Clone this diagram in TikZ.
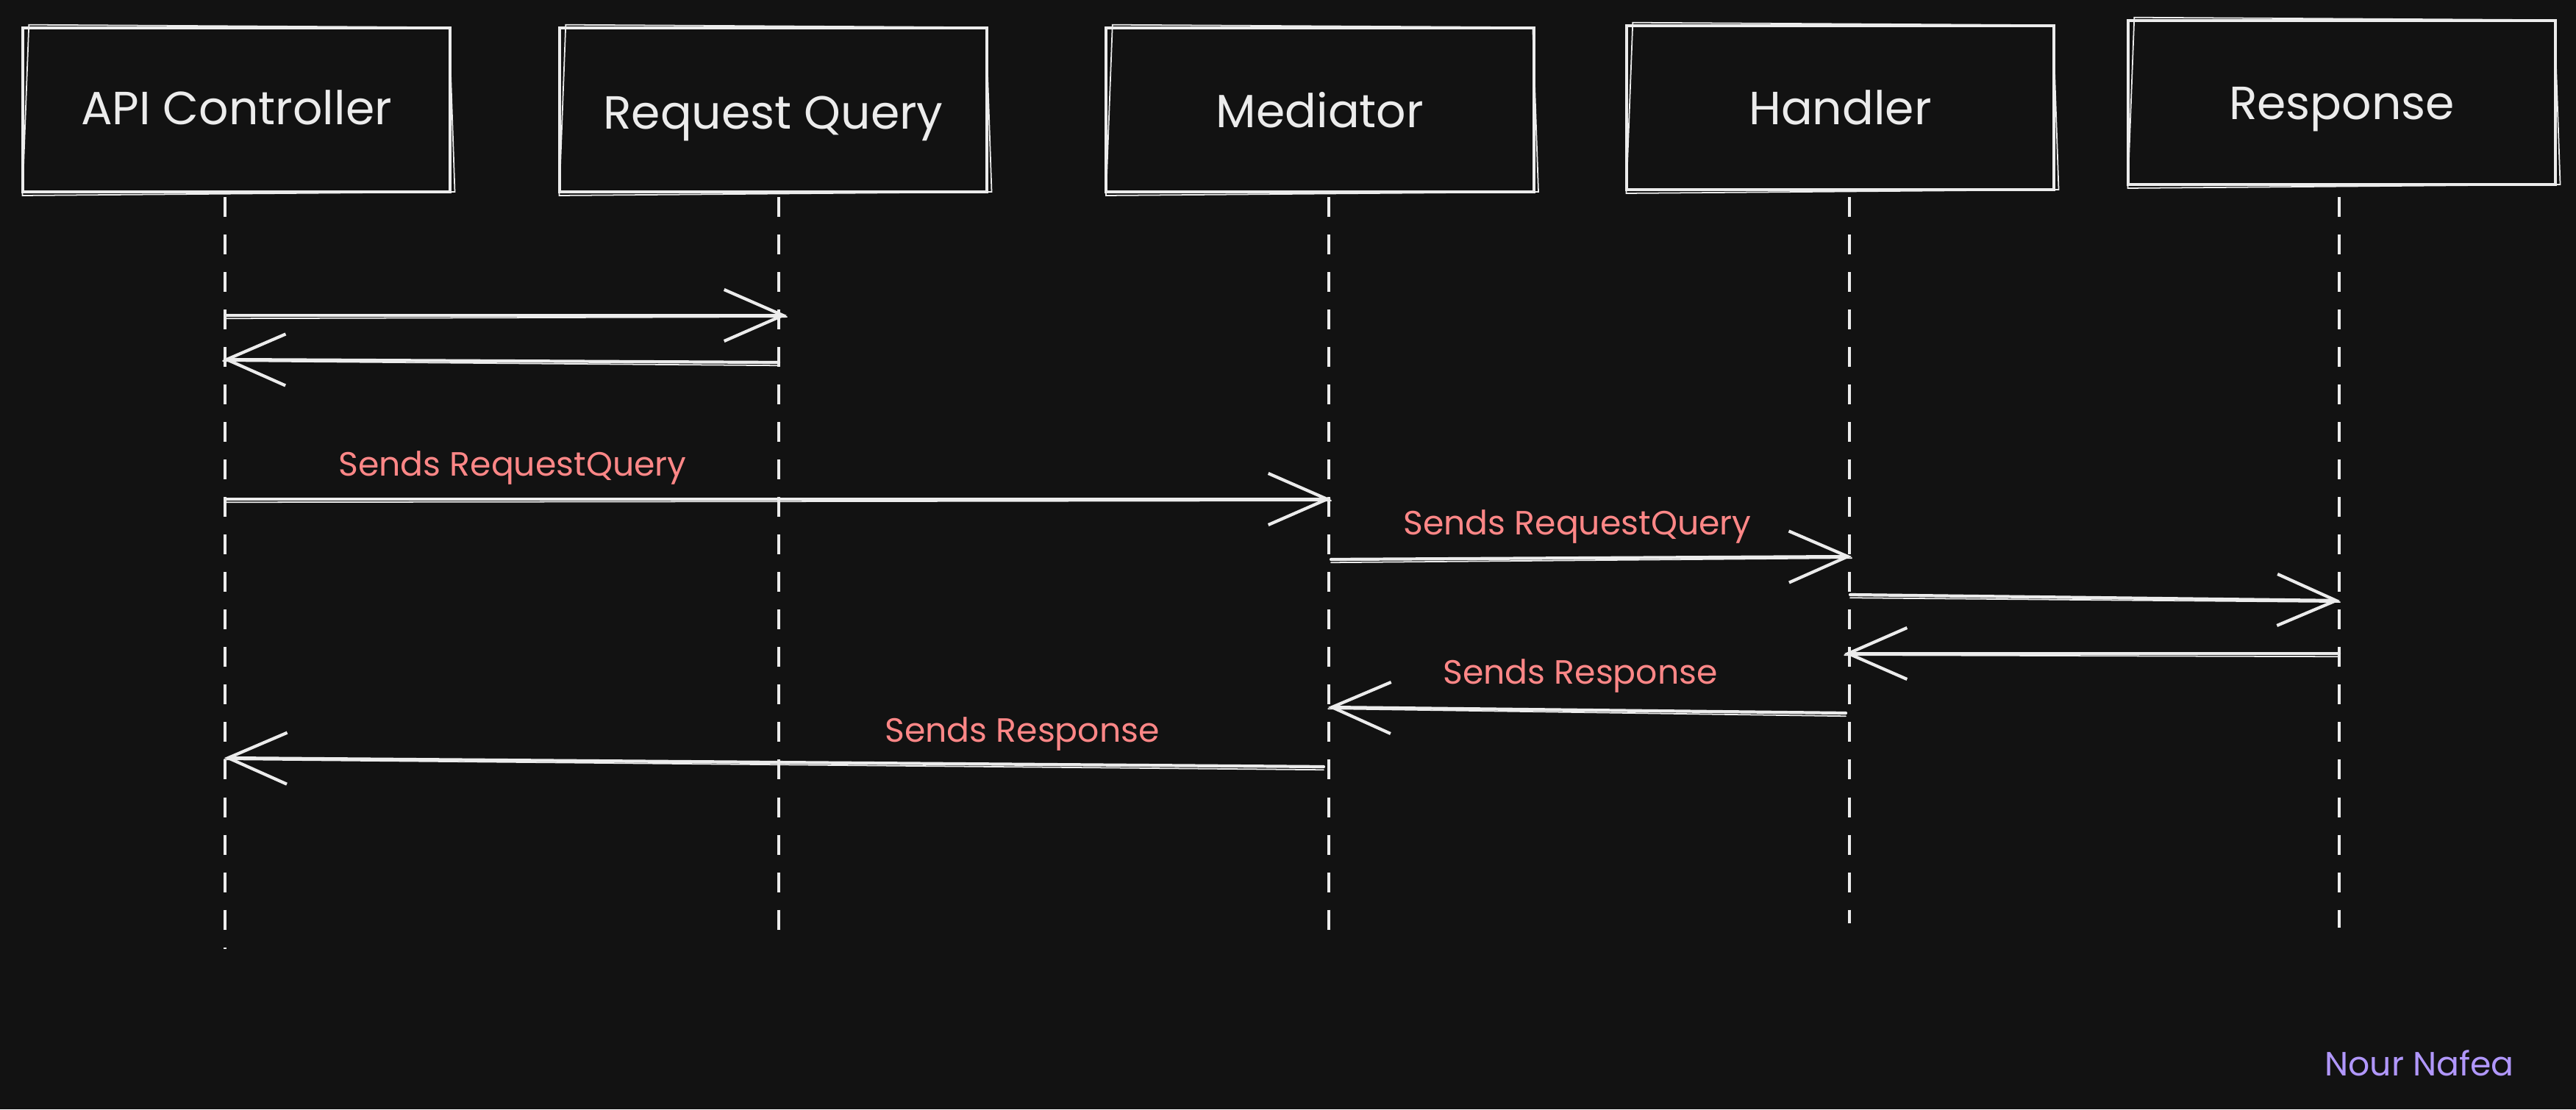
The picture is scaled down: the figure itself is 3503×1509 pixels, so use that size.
\documentclass[tikz,border=0pt]{standalone}
\usepackage{fontspec}
\setmainfont{Poppins}
\usetikzlibrary{arrows.meta}
\definecolor{bg}{HTML}{121212}
\definecolor{ink}{HTML}{ECECEC}
\definecolor{lbl}{HTML}{FF8787}
\definecolor{sig}{HTML}{B197FC}
\newcommand{\shiftTxt}[2]{\raisebox{#1}[\height][\depth]{#2}}
\begin{document}
\begin{tikzpicture}[x=0.01cm,y=-0.01cm,
  actor/.style={draw=ink, line width=1.2pt, rectangle, inner sep=0pt,
    minimum width=5.81cm, minimum height=2.23cm, text=ink,
    font=\fontsize{18}{21}\selectfont},
  life/.style={draw=ink, line width=1pt, dash pattern=on 0.27cm off 0.24cm},
  msg/.style={draw=ink, line width=1.2pt, line cap=round,
    -{Straight Barb[length=0.8cm, width=0.7cm, line width=1.2pt]}},
  ghost/.style={draw=ink, line width=0.5pt, line cap=round},
  lab/.style={text=lbl, font=\fontsize{13}{16}\selectfont, inner sep=0pt},
  sign/.style={text=sig, font=\fontsize{13}{15}\selectfont, inner sep=0pt}]
\fill[bg] (0,0) rectangle (3503,1509);
\useasboundingbox (0,0) rectangle (3503,1509);

% actors
\node[actor] (api) at (321.5,149.5) {\shiftTxt{0.8pt}{API Controller}};
\node[actor] (rq)  at (1051.5,149.5) {\shiftTxt{-3.3pt}{Request Query}};
\node[actor] (med) at (1795,149.5) {Mediator};
\node[actor] (hnd) at (2502.5,146.5) {Handler};
\node[actor] (rsp) at (3184.5,139.5) {\shiftTxt{-2.6pt}{Response}};

% sketchy second strokes
\foreach \n in {api,rq,med,hnd,rsp}{
  \draw[ghost] ([shift={(3pt,0.6pt)}]\n.north west) -- ([shift={(-1pt,-0.4pt)}]\n.north east)
    -- ([shift={(1.2pt,0.6pt)}]\n.south east) -- ([shift={(0.5pt,-0.8pt)}]\n.south west) -- cycle;
}

% lifelines
\coordinate (apiT) at (306,268);  \coordinate (apiB) at (306,1291);
\coordinate (rqT)  at (1059,268); \coordinate (rqB)  at (1059,1267);
\coordinate (medT) at (1807,268); \coordinate (medB) at (1807,1267);
\coordinate (hndT) at (2515,268); \coordinate (hndB) at (2515,1256);
\coordinate (rspT) at (3181,268); \coordinate (rspB) at (3181,1262);
\draw[life] (apiT) -- (apiB);
\draw[life] (rqT) -- (rqB);
\draw[life] (medT) -- (medB);
\draw[life] (hndT) -- (hndB);
\draw[life] (rspT) -- (rspB);

% message end points
\coordinate (m1s) at (306,429);  \coordinate (m1e) at (1070,429);
\coordinate (m2s) at (1059,493); \coordinate (m2e) at (303,489);
\coordinate (m3s) at (306,679);  \coordinate (m3e) at (1810,679);
\coordinate (m4s) at (1810,761); \coordinate (m4e) at (2518,757);
\coordinate (m5s) at (2516,809); \coordinate (m5e) at (3182,817);
\coordinate (m6s) at (3181,889); \coordinate (m6e) at (2508,889);
\coordinate (m7s) at (2510,970); \coordinate (m7e) at (1806,962);
\coordinate (m8s) at (1800,1043); \coordinate (m8e) at (305,1031);

\foreach \a/\b in {m1s/m1e,m2s/m2e,m3s/m3e,m4s/m4e,m5s/m5e,m6s/m6e,m7s/m7e,m8s/m8e}{
  \draw[msg] (\a) -- (\b);
  \draw[ghost] ([shift={(0,-1.2pt)}]\a) -- ([shift={(0,-0.6pt)}]\b);
}

% labels
\node[lab] (l3) at (697,637) {Sends RequestQuery};
\node[lab] (l4) at (2145,717) {Sends RequestQuery};
\node[lab] (l7) at (2149,920) {Sends Response};
\node[lab] (l8) at (1390,999) {Sends Response};

% signature
\node[sign] (sg) at (3290,1446) {Nour Nafea};
\end{tikzpicture}
\end{document}
